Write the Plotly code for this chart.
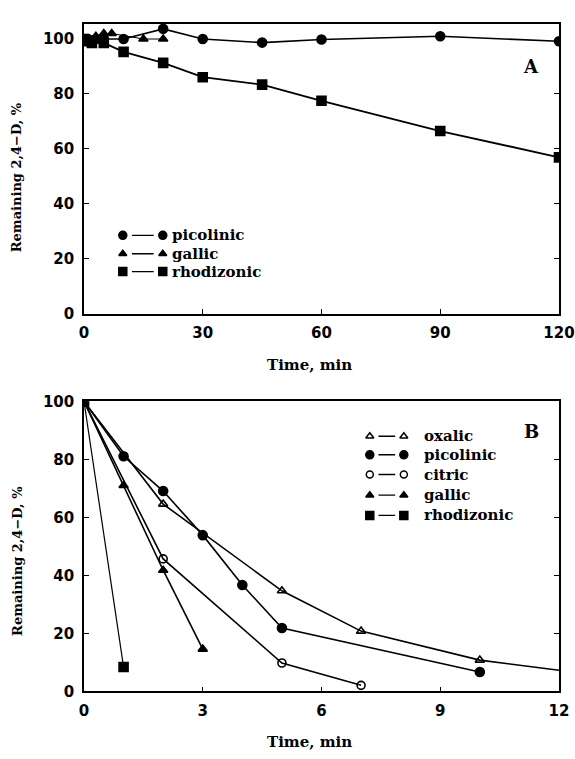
import plotly.graph_objects as go

# ---- Panel A: 0-120 min ----
a_pic_t = [0, 1, 3, 5, 10, 20, 30, 45, 60, 90, 120]
a_pic_y = [100, 100, 100, 100, 100, 103.7, 100, 98.7, 99.8, 101, 99.2]
a_gal_t = [0, 1, 3, 5, 7, 15, 20]
a_gal_y = [100, 100, 101, 102, 102, 100, 100]
a_rho_t = [0, 1, 2, 5, 10, 20, 30, 45, 60, 90, 120]
a_rho_y = [100, 99.2, 98.6, 98.6, 95.3, 91.3, 86.1, 83.4, 77.5, 66.5, 56.9]

# ---- Panel B: 0-12 min ----
b_oxa_t = [0, 2, 5, 7, 10, 12]
b_oxa_y = [100, 64.6, 34.7, 20.8, 10.8, 7.3]
b_oxa_m = [True, True, True, True, True, False]
b_pic_t = [0, 1, 2, 3, 4, 5, 10]
b_pic_y = [100, 81.1, 69.1, 53.9, 36.7, 21.9, 6.7]
b_cit_t = [0, 2, 5, 7]
b_cit_y = [100, 45.7, 9.8, 2.1]
b_gal_t = [0, 1, 2, 3]
b_gal_y = [100, 71, 41.8, 14.6]
b_rho_t = [0, 1]
b_rho_y = [100, 8.4]

a_xticks = [0, 30, 60, 90, 120]
b_xticks = [0, 3, 6, 9, 12]
y_ticks = [0, 20, 40, 60, 80, 100]

y_title = "Remaining 2,4\u2212D, %"
x_title = "Time, min"

SERIF = "DejaVu Serif"
SANS = "DejaVu Sans"
BLACK = "black"

W, H = 575, 759
ML, MR = 84, 14
PLOT_W = W - ML - MR

STYLE = {
    "picolinic": dict(symbol="circle", size=9),
    "gallic": dict(symbol="triangle-up", size=8),
    "rhodizonic": dict(symbol="square", size=9),
    "oxalic": dict(symbol="triangle-up-open", size=8),
    "citric": dict(symbol="circle-open", size=8),
}


def px_x(p):
    """Horizontal pixel position -> paper coordinate."""
    return (p - ML) / PLOT_W


def px_y(p):
    """Vertical pixel position (from top) -> paper coordinate."""
    return 1 - p / H


fig = go.Figure()


def add_series(t, y, name, xa, ya, width=1.6, show=None):
    st = STYLE[name]
    # curve
    fig.add_trace(go.Scatter(
        x=t, y=y, mode="lines", name=name, showlegend=False,
        xaxis=xa, yaxis=ya, line=dict(color=BLACK, width=width)))
    # measured points (optionally only a subset carries a marker)
    mt = [v for i, v in enumerate(t) if show is None or show[i]]
    my = [v for i, v in enumerate(y) if show is None or show[i]]
    fig.add_trace(go.Scatter(
        x=mt, y=my, mode="markers", name=name, showlegend=False,
        xaxis=xa, yaxis=ya,
        marker=dict(symbol=st["symbol"], size=st["size"], color=BLACK, opacity=1,
                    line=dict(color=BLACK, width=1.6))))


add_series(a_pic_t, a_pic_y, "picolinic", "x", "y")
add_series(a_gal_t, a_gal_y, "gallic", "x", "y", width=1.2)
add_series(a_rho_t, a_rho_y, "rhodizonic", "x", "y", width=1.8)

add_series(b_oxa_t, b_oxa_y, "oxalic", "x2", "y2", show=b_oxa_m)
add_series(b_pic_t, b_pic_y, "picolinic", "x2", "y2")
add_series(b_cit_t, b_cit_y, "citric", "x2", "y2")
add_series(b_gal_t, b_gal_y, "gallic", "x2", "y2")
add_series(b_rho_t, b_rho_y, "rhodizonic", "x2", "y2", width=1.2)


def add_key(names, xa, ya, x0, x1, gap, rows, text_x):
    """Key entries drawn as marker - line - marker, followed by the name."""
    for name, yy in zip(names, rows):
        st = STYLE[name]
        fig.add_trace(go.Scatter(
            x=[x0 + gap, x1 - gap], y=[yy, yy], mode="lines", showlegend=False,
            xaxis=xa, yaxis=ya, hoverinfo="skip",
            line=dict(color=BLACK, width=1.4)))
        fig.add_trace(go.Scatter(
            x=[x0, x1], y=[yy, yy], mode="markers", showlegend=False,
            xaxis=xa, yaxis=ya, hoverinfo="skip",
            marker=dict(symbol=st["symbol"], size=st["size"] - 1, color=BLACK, opacity=1,
                        line=dict(color=BLACK, width=1.5))))
        fig.add_annotation(x=text_x, y=yy, xref=xa, yref=ya, text=name,
                           showarrow=False, xanchor="left", yanchor="middle",
                           font=dict(family=SERIF, size=15, color=BLACK, weight="bold"))


add_key(["picolinic", "gallic", "rhodizonic"], "x", "y",
        9.8, 19.9, 2.3, [28.5, 21.8, 15.3], 21.6)
add_key(["oxalic", "picolinic", "citric", "gallic", "rhodizonic"], "x2", "y2",
        7.22, 8.08, 0.22, [88.0, 81.6, 74.8, 67.7, 60.7], 8.55)

# panel letters
for letter, ypix in [("A", 59), ("B", 433)]:
    fig.add_annotation(x=px_x(533), y=px_y(ypix), xref="paper", yref="paper",
                       text=letter, showarrow=False, xanchor="center", yanchor="middle",
                       font=dict(family=SERIF, size=18, color=BLACK, weight="bold"))

# axis titles
for ypix in [172, 565]:
    fig.add_annotation(x=px_x(17), y=px_y(ypix), xref="paper", yref="paper",
                       text=y_title, textangle=-90, showarrow=False,
                       xanchor="center", yanchor="middle",
                       font=dict(family=SERIF, size=13, color=BLACK, weight="bold"))
for ypix in [365, 751]:
    fig.add_annotation(x=px_x(310), y=px_y(ypix), xref="paper", yref="paper",
                       text=x_title, showarrow=False, xanchor="center", yanchor="middle",
                       font=dict(family=SERIF, size=15, color=BLACK, weight="bold"))

axis_common = dict(showgrid=False, zeroline=False, showline=True, linecolor=BLACK,
                   linewidth=1.6, ticks="inside", ticklen=5, tickwidth=1.2,
                   tickcolor=BLACK, ticklabeloverflow="allow",
                   tickfont=dict(family=SANS, size=15, color=BLACK, weight="bold"))

fig.update_layout(
    width=W, height=H,
    margin=dict(l=ML, r=MR, t=0, b=0),
    paper_bgcolor="white", plot_bgcolor="white",
    showlegend=False,
    xaxis=dict(domain=[0, 1], range=[0, 120], tickvals=a_xticks, anchor="y",
               mirror=True, ticklabelstandoff=5, **axis_common),
    yaxis=dict(domain=[px_y(312), px_y(15)], range=[0, 105.6], tickvals=y_ticks,
               anchor="x", mirror="allticks", ticklabelstandoff=5, **axis_common),
    xaxis2=dict(domain=[0, 1], range=[0, 12], tickvals=b_xticks, anchor="y2",
                mirror=True, ticklabelstandoff=5, **axis_common),
    yaxis2=dict(domain=[px_y(699), px_y(402)], range=[0, 100], tickvals=y_ticks,
                anchor="x2", mirror="allticks", ticklabelstandoff=5, **axis_common),
)

fig.write_html("out.html")
